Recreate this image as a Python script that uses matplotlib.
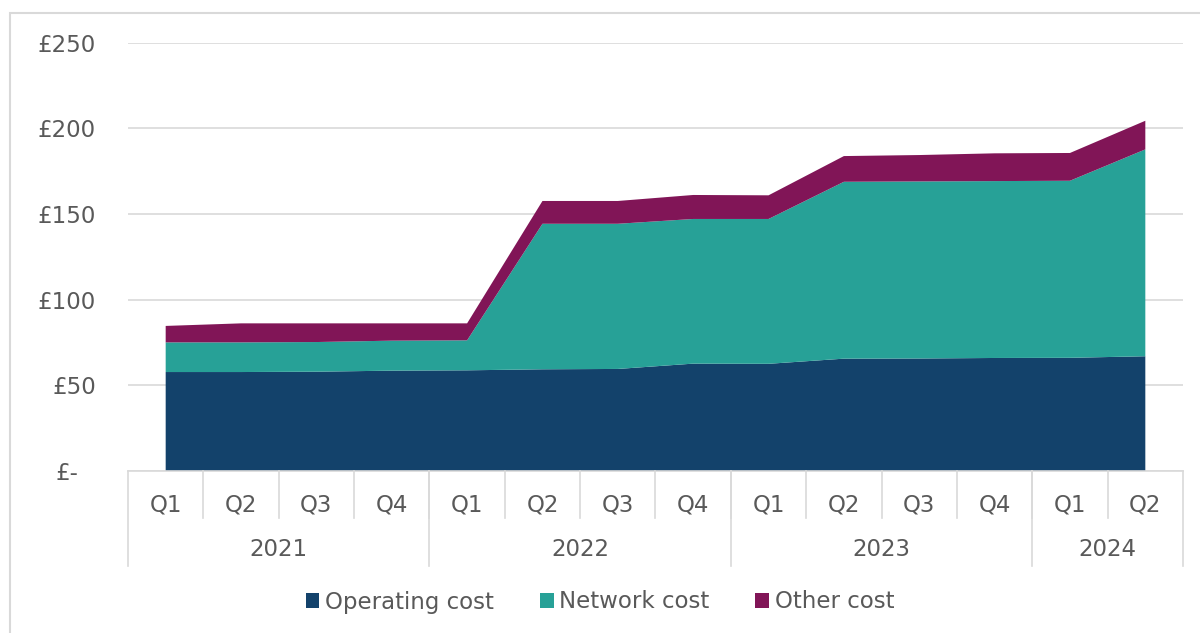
import matplotlib.pyplot as plt
from matplotlib.patches import Patch, Rectangle
from matplotlib.transforms import ScaledTranslation

quarters = ['Q1', 'Q2', 'Q3', 'Q4', 'Q1', 'Q2', 'Q3', 'Q4',
            'Q1', 'Q2', 'Q3', 'Q4', 'Q1', 'Q2']
years = ['2021', '2022', '2023', '2024']
year_counts = [4, 4, 4, 2]

operating = [57.8, 57.8, 58.0, 58.6, 58.8, 59.4, 59.6, 62.7,
             62.6, 65.6, 65.7, 66.0, 66.1, 67.0]
network = [17.3, 17.3, 17.3, 17.5, 17.5, 84.9, 84.7, 84.4,
           84.5, 103.2, 103.3, 103.2, 103.3, 120.7]
other = [9.6, 11.1, 10.9, 10.1, 9.9, 13.3, 13.3, 14.0,
         13.8, 15.0, 15.4, 16.2, 16.2, 16.7]

series_names = ['Operating cost', 'Network cost', 'Other cost']
colors = ['#13426b', '#27a197', '#811557']
yticks = [0, 50, 100, 150, 200, 250]
ytick_labels = ['£-', '£50', '£100', '£150', '£200', '£250']

text_col = '#595959'
line_col = '#d9d9d9'
fs = 16.5

plt.rcParams['font.family'] = ['DejaVu Sans']

fig = plt.figure(figsize=(12, 6.33), dpi=100)
W, H = 1200, 633
ax = fig.add_axes([128 / W, 1 - 471.1 / H, (1183 - 128) / W, (471.1 - 42.6) / H])

x = list(range(len(quarters)))
ax.stackplot(x, operating, network, other, colors=colors, linewidth=0)

ax.set_xlim(-0.5, len(quarters) - 0.5)
ax.set_ylim(0, 250)
ax.set_yticks(yticks)
ax.set_yticklabels(ytick_labels, fontsize=fs, color=text_col)
ax.tick_params(axis='y', length=0, pad=23)
ax.set_xticks([])
ax.yaxis.grid(True, color=line_col, linewidth=1.2)
ax.set_axisbelow(True)
for s in ax.spines.values():
    s.set_visible(False)

# nudge the zero label left like the accounting format
lab0 = ax.get_yticklabels()[0]
lab0.set_transform(lab0.get_transform() + ScaledTranslation(-0.18, 0, fig.dpi_scale_trans))

# multi-level category axis
axh = 471.1 - 42.6
y_q = -(518 - 471.1) / axh
y_y = -(566 - 471.1) / axh
tr = ax.get_xaxis_transform()
ax.plot([-0.5, len(quarters) - 0.5], [0, 0], color=line_col, lw=1.2,
        transform=tr, clip_on=False)
for i, q in enumerate(quarters):
    ax.text(i, -(505 - 471.1) / axh, q, transform=tr, ha='center', va='center',
            fontsize=fs, color=text_col)
    if i > 0:
        ax.plot([i - 0.5, i - 0.5], [0, y_q], color=line_col, lw=1.2,
                transform=tr, clip_on=False)
start = 0
bounds = [-0.5]
for yr, n in zip(years, year_counts):
    ax.text(start + (n - 1) / 2, -(550 - 471.1) / axh, yr, transform=tr,
            ha='center', va='center', fontsize=fs, color=text_col)
    start += n
    bounds.append(start - 0.5)
for b in bounds:
    ax.plot([b, b], [0, y_y], color=line_col, lw=1.2, transform=tr, clip_on=False)

handles = [Patch(facecolor=c, edgecolor='none') for c in colors]
fig.legend(handles, series_names, loc='center', bbox_to_anchor=(0.5, 1 - 602 / H),
           ncol=3, frameon=False, fontsize=fs, labelcolor=text_col,
           handlelength=0.6, handleheight=0.6, handletextpad=0.25,
           columnspacing=2.0)

fig.patches.append(Rectangle((10 / W, -0.1), 1.2, 1 - 13 / H + 0.1,
                             transform=fig.transFigure, fill=False,
                             edgecolor=line_col, linewidth=1.5))

fig.savefig('out.png', dpi=100)
